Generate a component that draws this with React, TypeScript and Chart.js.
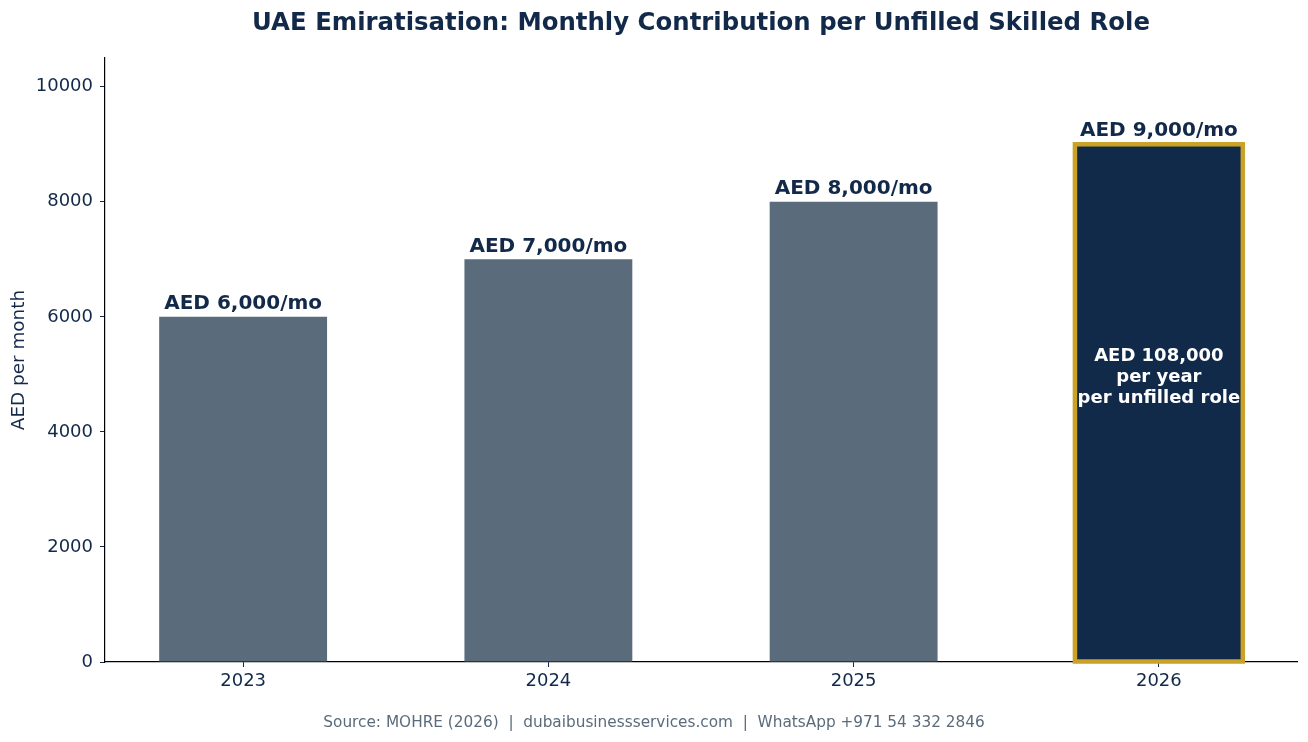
import { useEffect, useRef } from 'react';
import { Chart, registerables } from 'chart.js';

Chart.register(...registerables);

const years = ['2023', '2024', '2025', '2026'];
const positions = [0, 1, 2, 3];
const monthly = [6000, 7000, 8000, 9000];
const valueLabels = ['AED 6,000/mo', 'AED 7,000/mo', 'AED 8,000/mo', 'AED 9,000/mo'];
const yTicks = [0, 2000, 4000, 6000, 8000, 10000];
const noteLines = ['AED 108,000', 'per year', 'per unfilled role'];
const noteValue = 5000;

const NAVY = '#12294A';
const GREY = '#5A6B7B';
const GOLD = '#C9A227';
const FONT = '"DejaVu Sans", sans-serif';

const annotations = {
  id: 'annotations',
  afterDatasetsDraw(chart: any) {
    const { ctx, scales } = chart;
    const meta = chart.getDatasetMeta(0);
    const xs = scales.x;
    const ys = scales.y;
    ctx.save();

    // highlight outline on last bar
    const last = meta.data[meta.data.length - 1];
    const half = last.width / 2;
    ctx.strokeStyle = GOLD;
    ctx.lineWidth = 4.5;
    ctx.strokeRect(last.x - half, last.y, last.width, last.base - last.y);

    // value labels
    ctx.fillStyle = NAVY;
    ctx.font = `bold 20px ${FONT}`;
    ctx.textAlign = 'center';
    ctx.textBaseline = 'bottom';
    monthly.forEach((v, i) => {
      ctx.fillText(valueLabels[i], xs.getPixelForValue(positions[i]), ys.getPixelForValue(v) - 3);
    });

    // note inside last bar
    ctx.fillStyle = '#FFFFFF';
    ctx.font = `bold 18px ${FONT}`;
    ctx.textBaseline = 'middle';
    const cy = ys.getPixelForValue(noteValue) + 3;
    const lh = 21;
    noteLines.forEach((t, i) => {
      ctx.fillText(t, xs.getPixelForValue(positions[3]), cy + (i - 1) * lh);
    });

    // title
    ctx.fillStyle = NAVY;
    ctx.font = `bold 24.4px ${FONT}`;
    ctx.fillText('UAE Emiratisation: Monthly Contribution per Unfilled Skilled Role', (chart.chartArea.left + chart.chartArea.right) / 2, 24);

    // y-axis title
    ctx.font = `18.4px ${FONT}`;
    ctx.translate(19, (chart.chartArea.top + chart.chartArea.bottom) / 2);
    ctx.rotate(-Math.PI / 2);
    ctx.fillText('AED per month', 0, 0);
    ctx.setTransform(1, 0, 0, 1, 0, 0);
    ctx.restore();

    ctx.save();
    ctx.fillStyle = GREY;
    ctx.font = `15.3px ${FONT}`;
    ctx.textAlign = 'center';
    ctx.textBaseline = 'middle';
    ctx.fillText('Source: MOHRE (2026)  |  dubaibusinessservices.com  |  WhatsApp +971 54 332 2846', chart.width / 2, 723);
    ctx.restore();
  },
};

export default function App() {
  const canvasRef = useRef<HTMLCanvasElement>(null);
  const chartRef = useRef<Chart | null>(null);

  useEffect(() => {
    if (!canvasRef.current) return;
    if (chartRef.current) chartRef.current.destroy();

    chartRef.current = new Chart(canvasRef.current, {
      type: 'bar',
      data: {
        datasets: [
          {
            data: monthly.map((v, i) => ({ x: positions[i], y: v })),
            backgroundColor: [GREY, GREY, GREY, '#112A4A'],
            borderWidth: 0,
            barPercentage: 0.55,
            categoryPercentage: 1,
          },
        ],
      },
      options: {
        animation: false,
        responsive: false,
        maintainAspectRatio: false,
        layout: { padding: { top: 58, right: 11, left: 0, bottom: 0 } },
        plugins: {
          legend: { display: false },
          tooltip: { enabled: false },
          title: { display: false },
        },
        scales: {
          x: {
            type: 'linear',
            offset: false,
            min: -0.4525,
            max: 3.4525,
            afterBuildTicks: (scale: any) => {
              scale.ticks = positions.map((p) => ({ value: p }));
            },
            afterFit: (scale: any) => {
              scale.height = 80;
            },
            ticks: {
              callback: (v: any) => years[Math.round(Number(v))],
              color: NAVY,
              font: { family: FONT, size: 18 },
              padding: 4,
              maxRotation: 0,
            },
            grid: {
              display: true,
              offset: false,
              drawOnChartArea: false,
              tickLength: 5,
              tickColor: NAVY,
              tickWidth: 1,
            },
            border: { display: true, color: '#000000', width: 1.2 },
          },
          y: {
            type: 'linear',
            min: 0,
            max: 10500,
            afterBuildTicks: (scale: any) => {
              scale.ticks = yTicks.map((v) => ({ value: v }));
            },
            afterFit: (scale: any) => {
              scale.width = 105;
            },
            ticks: {
              callback: (v: any) => String(v),
              color: NAVY,
              font: { family: FONT, size: 18 },
              padding: 7,
            },
            grid: {
              display: true,
              drawOnChartArea: false,
              tickLength: 5,
              tickColor: NAVY,
              tickWidth: 1,
            },
            border: { display: true, color: '#000000', width: 1.2 },
          },
        },
      },
      plugins: [annotations],
    } as any);

    return () => {
      if (chartRef.current) {
        chartRef.current.destroy();
        chartRef.current = null;
      }
    };
  }, []);

  return (
    <div style={{ position: 'fixed', left: 0, top: 0, width: 1308, height: 742, background: '#fff' }}>
      <canvas ref={canvasRef} width={1308} height={742} style={{ width: 1308, height: 742 }} />
    </div>
  );
}
